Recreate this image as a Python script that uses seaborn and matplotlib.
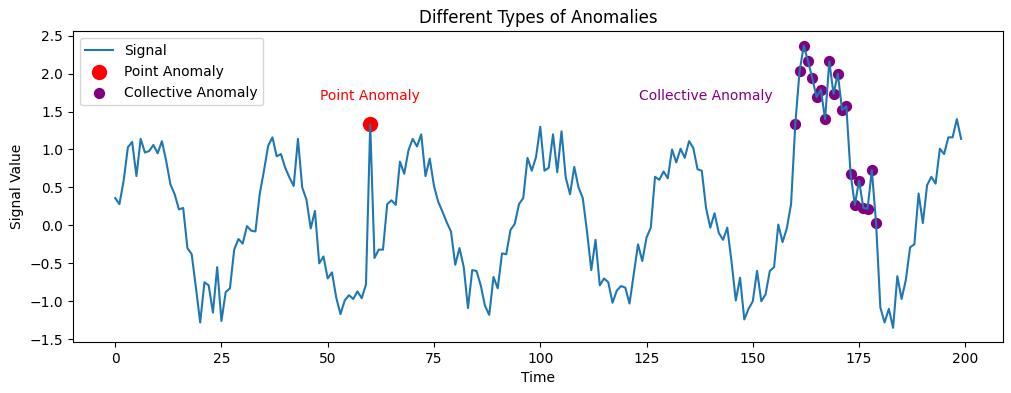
import numpy as np
import pandas as pd
import seaborn as sns
import matplotlib.pyplot as plt

# Valores (t = 0..199)
signal = [
    0.36, 0.28, 0.59, 1.03, 1.10, 0.65, 1.14, 0.96, 0.98, 1.06,
    0.95, 1.11, 0.85, 0.54, 0.41, 0.21, 0.23, -0.30, -0.38, -0.82,
    -1.28, -0.75, -0.79, -1.15, -0.55, -1.26, -0.88, -0.83, -0.32, -0.18,
    -0.24, -0.01, -0.07, -0.08, 0.41, 0.72, 1.05, 1.16, 0.91, 0.94,
    0.76, 0.63, 0.52, 1.14, 0.50, 0.34, -0.04, 0.19, -0.50, -0.41,
    -0.70, -0.62, -0.95, -1.17, -0.99, -0.92, -0.97, -0.87, -0.96, -0.78,
    1.33, -0.43, -0.32, -0.32, 0.28, 0.33, 0.27, 0.84, 0.68, 0.99,
    1.14, 1.04, 1.20, 0.65, 0.88, 0.52, 0.31, 0.18, 0.04, -0.08,
    -0.52, -0.30, -0.55, -1.09, -0.59, -0.60, -0.79, -1.06, -1.18, -0.68,
    -0.83, -0.37, -0.38, -0.06, 0.02, 0.28, 0.36, 0.89, 0.72, 0.90,
    1.30, 0.72, 0.76, 1.20, 0.70, 1.24, 0.63, 0.41, 0.77, 0.50,
    0.36, -0.08, -0.59, -0.19, -0.79, -0.70, -0.75, -1.02, -0.86, -0.80,
    -0.82, -1.03, -0.64, -0.25, -0.47, -0.16, -0.03, 0.64, 0.60, 0.71,
    0.62, 1.00, 0.83, 1.01, 0.89, 1.11, 1.02, 0.74, 0.72, 0.23,
    -0.03, 0.16, -0.10, -0.19, -0.03, -0.48, -0.99, -0.69, -1.24, -1.10,
    -1.00, -0.60, -1.00, -0.91, -0.60, -0.55, 0.01, -0.22, -0.04, 0.28,
    1.34, 2.03, 2.37, 2.16, 1.94, 1.69, 1.79, 1.40, 2.16, 1.73,
    2.00, 1.52, 1.57, 0.68, 0.27, 0.59, 0.23, 0.22, 0.73, 0.03,
    -1.08, -1.28, -1.10, -1.35, -0.67, -0.97, -0.72, -0.29, -0.25, 0.42,
    0.03, 0.53, 0.64, 0.55, 1.01, 0.94, 1.16, 1.16, 1.40, 1.14,
]
point_idx = [60]
collective_idx = list(range(160, 180))

df = pd.DataFrame({'Time': np.arange(len(signal)), 'Signal': signal})
point_df = df.iloc[point_idx]
coll_df = df.iloc[collective_idx]

fig = plt.figure(figsize=(10.12, 3.93), dpi=100)
ax = fig.add_subplot(111)
fig.subplots_adjust(left=0.072, right=0.9915, top=0.92, bottom=0.13)

sns.lineplot(data=df, x='Time', y='Signal', ax=ax, label='Signal', color='#1f77b4')
sns.scatterplot(data=point_df, x='Time', y='Signal', ax=ax, color='red', s=100,
                linewidth=1, edgecolor='red', label='Point Anomaly')
sns.scatterplot(data=coll_df, x='Time', y='Signal', ax=ax, color='purple', s=50,
                linewidth=1, edgecolor='purple', label='Collective Anomaly')

ax.text(60, 1.65, 'Point Anomaly', color='red', ha='center')
ax.text(139, 1.65, 'Collective Anomaly', color='purple', ha='center')

ax.set_title('Different Types of Anomalies')
ax.set_xlabel('Time')
ax.set_ylabel('Signal Value')
ax.legend(loc='upper left')

plt.savefig('out.png')
plt.close()
